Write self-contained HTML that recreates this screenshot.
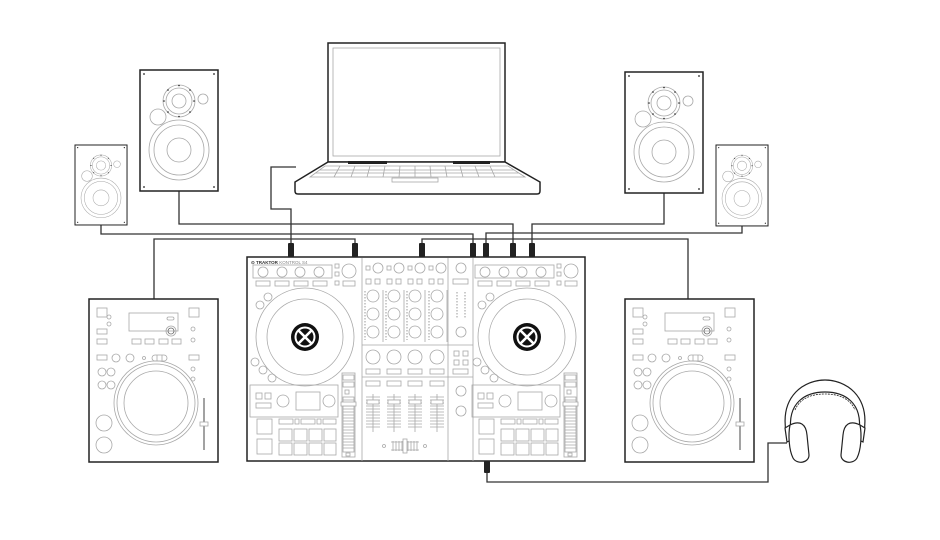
<!DOCTYPE html>
<html><head><meta charset="utf-8"><style>
html,body{margin:0;padding:0;background:#fff;}
svg{display:block;}
.o{fill:#fff;stroke:#222;stroke-width:1.5;}
.g{fill:none;stroke:#a8a8a8;stroke-width:0.8;}
.gw{fill:#fff;stroke:#a8a8a8;stroke-width:0.8;}
.c{fill:none;stroke:#333;stroke-width:1.3;}
.k{fill:#222;}
</style></head><body>
<svg width="940" height="540" viewBox="0 0 940 540" xmlns="http://www.w3.org/2000/svg">
<defs>
<g id="spk">
  <rect x="0" y="0" width="78" height="121" class="o"/>
  <circle cx="4" cy="4" r="0.9" class="k"/><circle cx="74" cy="4" r="0.9" class="k"/>
  <circle cx="4" cy="117" r="0.9" class="k"/><circle cx="74" cy="117" r="0.9" class="k"/>
  <circle cx="39" cy="31" r="16" class="g"/><circle cx="39" cy="31" r="13" class="g"/><circle cx="39" cy="31" r="7" class="g"/>
  <circle cx="39" cy="15.5" r="0.8" class="k"/><circle cx="39" cy="46.5" r="0.8" class="k"/>
  <circle cx="24" cy="31" r="0.8" class="k"/><circle cx="54" cy="31" r="0.8" class="k"/>
  <circle cx="28" cy="20" r="0.8" class="k"/><circle cx="50" cy="20" r="0.8" class="k"/>
  <circle cx="28" cy="42" r="0.8" class="k"/><circle cx="50" cy="42" r="0.8" class="k"/>
  <circle cx="63" cy="29" r="5" class="g"/>
  <circle cx="18" cy="47" r="8" class="g"/>
  <circle cx="39" cy="80" r="30" class="g"/><circle cx="39" cy="80" r="25" class="g"/><circle cx="39" cy="80" r="12" class="g"/>
</g>
<g id="cdj">
  <rect x="0" y="0" width="129" height="163" class="o"/>
  <rect x="40" y="14" width="49" height="18" class="g"/>
  <rect x="8" y="9" width="10" height="9" class="g"/><rect x="100" y="9" width="10" height="9" class="g"/>
  <circle cx="20" cy="18" r="2" class="g"/><circle cx="20" cy="25" r="2" class="g"/>
  <rect x="8" y="30" width="10" height="5" class="g"/><rect x="8" y="40" width="10" height="5" class="g"/>
  <rect x="43" y="40" width="9" height="5" class="g"/><rect x="56" y="40" width="9" height="5" class="g"/>
  <rect x="70" y="40" width="9" height="5" class="g"/><rect x="83" y="40" width="9" height="5" class="g"/>
  <rect x="78" y="18" width="7" height="3" rx="1.5" class="g"/>
  <circle cx="82" cy="32" r="5" class="g"/><circle cx="82" cy="32" r="3" fill="none" stroke="#666" stroke-width="0.8"/>
  <circle cx="104" cy="30" r="2" class="g"/><circle cx="104" cy="41" r="2" class="g"/>
  <rect x="8" y="56" width="10" height="5" class="g"/>
  <circle cx="27" cy="59" r="4" class="g"/><circle cx="41" cy="59" r="4" class="g"/><circle cx="55" cy="59" r="1.5" class="g"/>
  <rect x="63" y="56" width="15" height="6" rx="3" class="g"/><line x1="68" y1="56" x2="68" y2="62" class="g"/><line x1="73" y1="56" x2="73" y2="62" class="g"/>
  <rect x="100" y="56" width="10" height="5" class="g"/>
  <circle cx="104" cy="70" r="2" class="g"/><circle cx="104" cy="80" r="2" class="g"/>
  <circle cx="13" cy="73" r="4" class="g"/><circle cx="22" cy="73" r="4" class="g"/>
  <circle cx="13" cy="86" r="4" class="g"/><circle cx="22" cy="86" r="4" class="g"/>
  <circle cx="67" cy="104" r="42" class="g"/><circle cx="67" cy="104" r="39" class="g"/><circle cx="67" cy="104" r="32" class="g"/>
  <circle cx="15" cy="124" r="8" class="g"/><circle cx="15" cy="146" r="8" class="g"/>
  <line x1="115" y1="99" x2="115" y2="151" stroke="#444" stroke-width="1"/>
  <rect x="111" y="123" width="8" height="4" class="gw"/>
</g>
<g id="deck">
  <rect x="253" y="265" width="79" height="13" class="g"/>
  <circle cx="263" cy="272" r="5" class="g"/><circle cx="282" cy="272" r="5" class="g"/>
  <circle cx="300" cy="272" r="5" class="g"/><circle cx="319" cy="272" r="5" class="g"/>
  <rect x="256" y="281" width="14" height="5" class="g"/><rect x="275" y="281" width="14" height="5" class="g"/>
  <rect x="294" y="281" width="14" height="5" class="g"/><rect x="313" y="281" width="14" height="5" class="g"/>
  <rect x="335" y="264" width="4" height="4" class="g"/><rect x="335" y="272" width="4" height="4" class="g"/><rect x="335" y="281" width="4" height="4" class="g"/>
  <circle cx="349" cy="271" r="7" class="g"/><rect x="343" y="281" width="12" height="5" class="g"/>
  <circle cx="268" cy="297" r="4" class="g"/><circle cx="260" cy="305" r="4" class="g"/>
  <circle cx="255" cy="362" r="4" class="g"/><circle cx="263" cy="370" r="4" class="g"/><circle cx="272" cy="378" r="4" class="g"/>
  <circle cx="305" cy="337" r="49" class="g"/><circle cx="305" cy="337" r="38" class="g"/>
  <circle cx="305" cy="337" r="14" fill="#111"/>
  <circle cx="305" cy="337" r="9.5" fill="none" stroke="#fff" stroke-width="2"/>
  <path d="M298,330 L312,344 M312,330 L298,344" stroke="#fff" stroke-width="2.6"/>
  <rect x="250" y="385" width="88" height="32" class="g"/>
  <rect x="256" y="393" width="6" height="6" class="g"/><rect x="265" y="393" width="6" height="6" class="g"/>
  <rect x="256" y="403" width="15" height="5" class="g"/>
  <circle cx="283" cy="401" r="6" class="g"/><rect x="296" y="392" width="24" height="18" class="g"/><circle cx="329" cy="401" r="6" class="g"/>
  <rect x="257" y="419" width="15" height="15" class="g"/><rect x="257" y="439" width="15" height="15" class="g"/>
  <rect x="279" y="419" width="14" height="5" class="g"/><rect x="295" y="419" width="4" height="5" class="g"/>
  <rect x="301" y="419" width="14" height="5" class="g"/><rect x="317" y="419" width="4" height="5" class="g"/><rect x="323" y="419" width="13" height="5" class="g"/>
  <rect x="279" y="429" width="13" height="12" class="g"/><rect x="294" y="429" width="13" height="12" class="g"/>
  <rect x="309" y="429" width="13" height="12" class="g"/><rect x="324" y="429" width="12" height="12" class="g"/>
  <rect x="279" y="443" width="13" height="12" class="g"/><rect x="294" y="443" width="13" height="12" class="g"/>
  <rect x="309" y="443" width="13" height="12" class="g"/><rect x="324" y="443" width="12" height="12" class="g"/>
  <rect x="342" y="373" width="13" height="84" class="g"/>
  <rect x="343" y="375" width="11" height="5" class="g"/><rect x="343" y="382" width="11" height="5" class="g"/>
  <rect x="345" y="390" width="4" height="4" class="g"/>
  <rect x="343" y="397" width="11" height="55" class="g"/>
  <path d="M343,400h11M343,403h11M343,406h11M343,409h11M343,412h11M343,415h11M343,418h11M343,421h11M343,424h11M343,427h11M343,430h11M343,433h11M343,436h11M343,439h11M343,442h11M343,445h11M343,448h11" class="g"/>
  <rect x="341" y="402" width="15" height="4" class="gw"/>
  <rect x="346" y="453" width="4" height="3" class="g"/>
</g>
<g id="ch">
  <circle cx="373" cy="296" r="6" class="g"/><circle cx="373" cy="314" r="6" class="g"/><circle cx="373" cy="332" r="6" class="g"/>
  <line x1="365" y1="291" x2="365" y2="340" stroke="#999" stroke-width="1" stroke-dasharray="1.5,1.5"/>
  <line x1="383" y1="290" x2="383" y2="342" class="g"/>
  <circle cx="373" cy="357" r="7" class="g"/>
  <rect x="366" y="369" width="14" height="5" class="g"/>
  <rect x="366" y="381" width="14" height="5" class="g"/>
  <path d="M366,397h14M366,400h14M366,403h14M366,406h14M366,409h14M366,412h14M366,415h14M366,418h14M366,421h14M366,424h14M366,427h14" class="g"/>
  <line x1="373" y1="394" x2="373" y2="432" class="g"/>
  <rect x="367" y="400" width="12" height="4" class="gw"/>
</g>
</defs>

<path class="c" d="M296,167 H271 V209 H291 V245"/>
<path class="c" d="M179,191 V224 H513 V245"/>
<path class="c" d="M101,225 V234 H473 V245"/>
<path class="c" d="M154,299 V239 H355 V245"/>
<path class="c" d="M688,299 V239 H422 V245"/>
<path class="c" d="M664,193 V224 H532 V245"/>
<path class="c" d="M742,226 V233 H486 V245"/>
<path class="c" d="M487,462 V482 H768 V443 H787"/>

<g class="k">
  <rect x="288" y="243" width="6" height="14" rx="1"/><rect x="352" y="243" width="6" height="14" rx="1"/>
  <rect x="419" y="243" width="6" height="14" rx="1"/><rect x="470" y="243" width="6" height="14" rx="1"/>
  <rect x="483" y="243" width="6" height="14" rx="1"/><rect x="510" y="243" width="6" height="14" rx="1"/>
  <rect x="529" y="243" width="6" height="14" rx="1"/>
  <rect x="484" y="461" width="6" height="12" rx="1"/>
</g>

<use href="#spk" x="140" y="70"/>
<use href="#spk" transform="translate(625,72)"/>
<g transform="translate(75,145) scale(0.667,0.661)"><use href="#spk"/></g>
<g transform="translate(716,145) scale(0.667,0.669)"><use href="#spk"/></g>

<rect x="328" y="43" width="177" height="119" class="o"/>
<rect x="333" y="48" width="167" height="108" class="g"/>
<path class="o" d="M328,162 H505 L540,182 V191 Q540,194 537,194 H298 Q295,194 295,191 V182 Z"/>
<rect x="348" y="161" width="39" height="3" class="k"/><rect x="453" y="161" width="37" height="3" class="k"/>
<path class="g" d="M325,166 H508 L525,177 H310 Z M320,170 H514 M315,173 H519"/>
<path class="g" d="M340,166 L334,177 M355,166 L351,177 M370,166 L367,177 M385,166 L383,177 M400,166 L399,177 M415,166 L415,177 M430,166 L431,177 M445,166 L447,177 M460,166 L463,177 M475,166 L479,177 M490,166 L495,177"/>
<rect x="392" y="178" width="46" height="4" class="g"/>

<use href="#cdj" x="89" y="299"/>
<use href="#cdj" x="625" y="299"/>

<rect x="247" y="257" width="338" height="204" class="o"/>
<path class="g" d="M362,258 V461 M448,258 V461 M473,258 V461 M362,345 H473 M362,377 H473"/>
<use href="#deck"/>
<use href="#deck" transform="translate(222,0)"/>
<text x="251" y="264" font-family="Liberation Sans, sans-serif" font-size="4.5" font-weight="bold" fill="#333">⊙ TRAKTOR <tspan fill="#888" font-weight="normal">KONTROL S4</tspan></text>
<g>
  <rect x="366" y="266" width="4" height="4" class="g"/><circle cx="378" cy="268" r="5" class="g"/>
  <rect x="387" y="266" width="4" height="4" class="g"/><circle cx="399" cy="268" r="5" class="g"/>
  <rect x="408" y="266" width="4" height="4" class="g"/><circle cx="420" cy="268" r="5" class="g"/>
  <rect x="429" y="266" width="4" height="4" class="g"/><circle cx="441" cy="268" r="5" class="g"/>
  <rect x="366" y="279" width="5" height="5" class="g"/><rect x="375" y="279" width="5" height="5" class="g"/>
  <rect x="387" y="279" width="5" height="5" class="g"/><rect x="396" y="279" width="5" height="5" class="g"/>
  <rect x="408" y="279" width="5" height="5" class="g"/><rect x="417" y="279" width="5" height="5" class="g"/>
  <rect x="429" y="279" width="5" height="5" class="g"/><rect x="438" y="279" width="5" height="5" class="g"/>
</g>
<use href="#ch"/><use href="#ch" transform="translate(21,0)"/><use href="#ch" transform="translate(42,0)"/><use href="#ch" transform="translate(64,0)"/>
<circle cx="384" cy="446" r="1.5" class="g"/><circle cx="425" cy="446" r="1.5" class="g"/>
<path class="g" d="M391,442h28M391,450h28M393,441v10M396,441v10M399,441v10M402,441v10M408,441v10M411,441v10M414,441v10M417,441v10"/>
<rect x="403" y="439" width="4" height="14" class="gw"/>
<circle cx="461" cy="268" r="5" class="g"/>
<rect x="453" y="279" width="15" height="5" class="g"/>
<line x1="457" y1="292" x2="457" y2="318" stroke="#999" stroke-width="1" stroke-dasharray="1.5,1.5"/>
<line x1="465" y1="292" x2="465" y2="318" stroke="#999" stroke-width="1" stroke-dasharray="1.5,1.5"/>
<circle cx="461" cy="332" r="5" class="g"/>
<rect x="454" y="351" width="5" height="5" class="g"/><rect x="463" y="351" width="5" height="5" class="g"/>
<rect x="454" y="360" width="5" height="5" class="g"/><rect x="463" y="360" width="5" height="5" class="g"/>
<rect x="453" y="369" width="15" height="5" class="g"/>
<circle cx="461" cy="391" r="5" class="g"/><circle cx="461" cy="411" r="5" class="g"/>

<g fill="#fff" stroke="#222" stroke-width="1.2">
  <path fill="none" d="M786,432 C780,395 805,380 825,380 C845,380 870,395 864,432"/>
  <path fill="none" d="M791,432 C787,402 806,392 825,392 C844,392 863,402 859,432"/>
  <path fill="none" stroke-width="0.8" d="M795,410 C800,398 812,394 825,394 C838,394 850,398 855,410" stroke-dasharray="2,1"/>
  <path d="M785,428 L790,425 L791,440 L787,442 Z"/>
  <path d="M865,428 L860,425 L859,440 L863,442 Z"/>
  <path d="M790,425 C800,420 806,424 807,435 L809,455 C809,463 797,465 793,458 C789,450 788,435 790,425 Z"/>
  <path d="M860,425 C850,420 844,424 843,435 L841,455 C841,463 853,465 857,458 C861,450 862,435 860,425 Z"/>
</g>
</svg>
</body></html>
